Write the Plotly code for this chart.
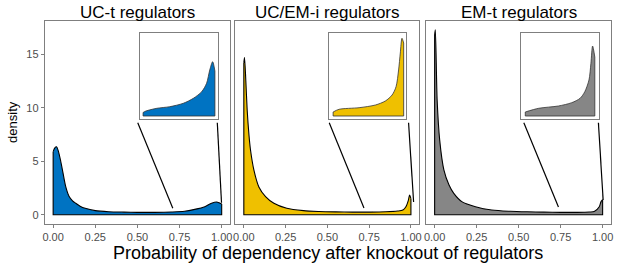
import plotly.graph_objects as go

W, H = 617, 267

# ---------------- data ----------------
panel_titles = ["UC-t regulators", "UC/EM-i regulators", "EM-t regulators"]
fill_colors = ["#0073C2", "#EFC000", "#868686"]

uct_x = [0, 0.01, 0.02, 0.03, 0.045, 0.055, 0.075, 0.095, 0.115, 0.134, 0.16, 0.19, 0.25, 0.33,
         0.42, 0.5, 0.6, 0.7, 0.78, 0.84, 0.9, 0.94, 0.97, 0.985, 1.0]
uct_y = [5.9, 6.25, 6.35, 6.0, 5.0, 4.2, 2.6, 1.7, 1.3, 1.07, 0.8, 0.6, 0.38, 0.28,
         0.24, 0.22, 0.22, 0.25, 0.32, 0.5, 0.75, 1.07, 1.19, 1.12, 1.0]

ucemi_x = [0, 0.004, 0.012, 0.02, 0.03, 0.04, 0.06, 0.09, 0.13, 0.18, 0.257, 0.357, 0.45, 0.55,
           0.65, 0.75, 0.85, 0.92, 0.952, 0.97, 0.985, 0.992, 1.0]
ucemi_y = [14.2, 14.7, 12.5, 9.8, 7.6, 6.05, 4.2, 2.6, 1.7, 1.07, 0.6, 0.38, 0.3, 0.26,
           0.24, 0.24, 0.27, 0.34, 0.44, 0.75, 1.37, 1.84, 1.5]

emt_x = [0, 0.004, 0.015, 0.03, 0.055, 0.085, 0.114, 0.164, 0.243, 0.34, 0.45, 0.55, 0.65, 0.75,
         0.85, 0.92, 0.95, 0.98, 0.99, 1.0]
emt_y = [16.8, 17.3, 10.7, 7.0, 4.2, 2.8, 2.0, 1.2, 0.75, 0.44, 0.32, 0.27, 0.24, 0.22,
         0.22, 0.25, 0.3, 0.75, 1.2, 1.4]

# inset (zoomed tail) densities
ins1_x = [0.75, 0.76, 0.798, 0.843, 0.890, 0.925, 0.954, 0.971, 0.982, 0.992, 1.0]
ins1_y = [0.35, 0.5, 0.77, 0.93, 1.27, 1.77, 2.43, 3.27, 4.6, 5.43, 4.5]
ins2_x = [0.75, 0.771, 0.842, 0.900, 0.935, 0.959, 0.973, 0.982, 0.988, 0.994, 1.0]
ins2_y = [0.4, 0.67, 0.83, 1.1, 1.5, 2.1, 2.93, 4.6, 6.3, 7.77, 7.3]
ins3_x = [0.75, 0.798, 0.869, 0.917, 0.947, 0.964, 0.979, 0.986, 0.992, 1.0]
ins3_y = [0.4, 0.77, 1.0, 1.33, 1.77, 2.43, 3.6, 5.27, 7.0, 5.9]

x_ticks = [0, 0.25, 0.5, 0.75, 1.0]
x_tick_labels = ["0.00", "0.25", "0.50", "0.75", "1.00"]
y_ticks = [0, 5, 10, 15]

main_data = [(uct_x, uct_y), (ucemi_x, ucemi_y), (emt_x, emt_y)]
inset_data = [(ins1_x, ins1_y), (ins2_x, ins2_y), (ins3_x, ins3_y)]

# ---------------- layout constants ----------------
panel_px = [(43, 229.6), (235, 420), (427, 613)]
panel_top, panel_bot = 21, 224
inset_px = [(138.7, 217), (328.7, 407), (522.7, 601)]
inset_top, inset_bot = 32.7, 118.5
inset_xr = [[0.7386, 1.0093], [0.7338, 1.0095], [0.7357, 1.0154]]
inset_yr = [-0.25, 8.33]
main_xr = [-0.05, 1.05]
main_yr = [-0.87, 18.12]
connectors = [
    [((0.502, 8.6), (0.710, 0.6)), ((0.974, 8.6), (0.999, 1.12))],
    [((0.511, 8.6), (0.719, 0.63)), ((0.986, 8.6), (1.016, 1.19))],
    [((0.531, 8.6), (0.737, 0.72)), ((0.975, 8.6), (1.003, 1.37))],
]

FONT = "Liberation Sans, Arial, Helvetica, sans-serif"
BORDER = "#7f7f7f"

def px_x(a, b):
    return [a / W, b / W]

def px_y(top, bot):
    return [1 - bot / H, 1 - top / H]

fig = go.Figure()
layout = dict(
    width=W, height=H, margin=dict(l=0, r=0, t=0, b=0),
    plot_bgcolor="white", paper_bgcolor="white", showlegend=False,
    font=dict(family=FONT, color="#4d4d4d"),
)
shapes = []
annotations = []

for i in range(3):
    xa = f"x{i+1}" if i else "x"
    ya = f"y{i+1}" if i else "y"
    xs, ys = main_data[i]
    fig.add_trace(go.Scatter(x=xs, y=ys, mode="lines", fill="tozeroy",
                             fillcolor=fill_colors[i],
                             line=dict(color="black", width=1.1, shape="spline", smoothing=0.8),
                             xaxis=xa, yaxis=ya, hoverinfo="skip"))
    fig.add_trace(go.Scatter(x=[xs[0], xs[0], xs[-1], xs[-1]], y=[ys[0], 0, 0, ys[-1]],
                             mode="lines", line=dict(color="black", width=1.1),
                             xaxis=xa, yaxis=ya, hoverinfo="skip"))
    layout[f"xaxis{i+1}" if i else "xaxis"] = dict(
        domain=px_x(*panel_px[i]), range=main_xr, anchor=ya,
        tickvals=x_ticks, ticktext=x_tick_labels, ticks="outside", ticklen=3,
        tickcolor=BORDER, tickfont=dict(size=11, color="#4d4d4d", family=FONT),
        showline=True, linecolor=BORDER, linewidth=1, mirror=True,
        showgrid=False, zeroline=False, fixedrange=True)
    layout[f"yaxis{i+1}" if i else "yaxis"] = dict(
        domain=px_y(panel_top, panel_bot), range=main_yr, anchor=xa,
        tickvals=y_ticks, ticks="outside" if i == 0 else "", ticklen=3,
        showticklabels=(i == 0),
        tickcolor=BORDER, tickfont=dict(size=11, color="#4d4d4d", family=FONT),
        showline=True, linecolor=BORDER, linewidth=1, mirror=True,
        showgrid=False, zeroline=False, fixedrange=True)
    for (p0, p1) in connectors[i]:
        shapes.append(dict(type="line", xref=xa, yref=ya, x0=p0[0], y0=p0[1],
                           x1=p1[0], y1=p1[1], line=dict(color="black", width=1.2)))
    k = i + 4
    ixa, iya = f"x{k}", f"y{k}"
    ix, iy = inset_data[i]
    fig.add_trace(go.Scatter(x=ix, y=iy, mode="lines", fill="tozeroy",
                             fillcolor=fill_colors[i],
                             line=dict(color="#333333", width=0.8, shape="spline", smoothing=0.8),
                             xaxis=ixa, yaxis=iya, hoverinfo="skip"))
    fig.add_trace(go.Scatter(x=[ix[0], ix[0], ix[-1], ix[-1]], y=[iy[0], 0, 0, iy[-1]],
                             mode="lines", line=dict(color="#333333", width=0.8),
                             xaxis=ixa, yaxis=iya, hoverinfo="skip"))
    layout[f"xaxis{k}"] = dict(domain=px_x(*inset_px[i]), range=inset_xr[i], anchor=iya,
                               showticklabels=False, ticks="", showgrid=False, zeroline=False,
                               showline=True, linecolor=BORDER, linewidth=1, mirror=True,
                               fixedrange=True)
    layout[f"yaxis{k}"] = dict(domain=px_y(inset_top, inset_bot), range=inset_yr, anchor=ixa,
                               showticklabels=False, ticks="", showgrid=False, zeroline=False,
                               showline=True, linecolor=BORDER, linewidth=1, mirror=True,
                               fixedrange=True)
    cx = (panel_px[i][0] + panel_px[i][1]) / 2 / W
    annotations.append(dict(text=panel_titles[i], x=cx, y=1 - 12 / H, xref="paper", yref="paper",
                            showarrow=False, xanchor="center", yanchor="middle",
                            font=dict(size=17, color="black", family=FONT)))

annotations.append(dict(text="Probability of dependency after knockout of regulators",
                        x=(43 + 613) / 2 / W, y=1 - 253 / H, xref="paper", yref="paper",
                        showarrow=False, xanchor="center", yanchor="middle",
                        font=dict(size=18, color="black", family=FONT)))
annotations.append(dict(text="density", x=10 / W, y=1 - 122 / H, xref="paper", yref="paper",
                        showarrow=False, textangle=-90, xanchor="center", yanchor="middle",
                        font=dict(size=13, color="black", family=FONT)))

layout["shapes"] = shapes
layout["annotations"] = annotations
fig.update_layout(**layout)
fig.write_html("out.html", config={"displayModeBar": False},
               post_script="document.body.style.margin='0';document.body.style.overflow='hidden';")
